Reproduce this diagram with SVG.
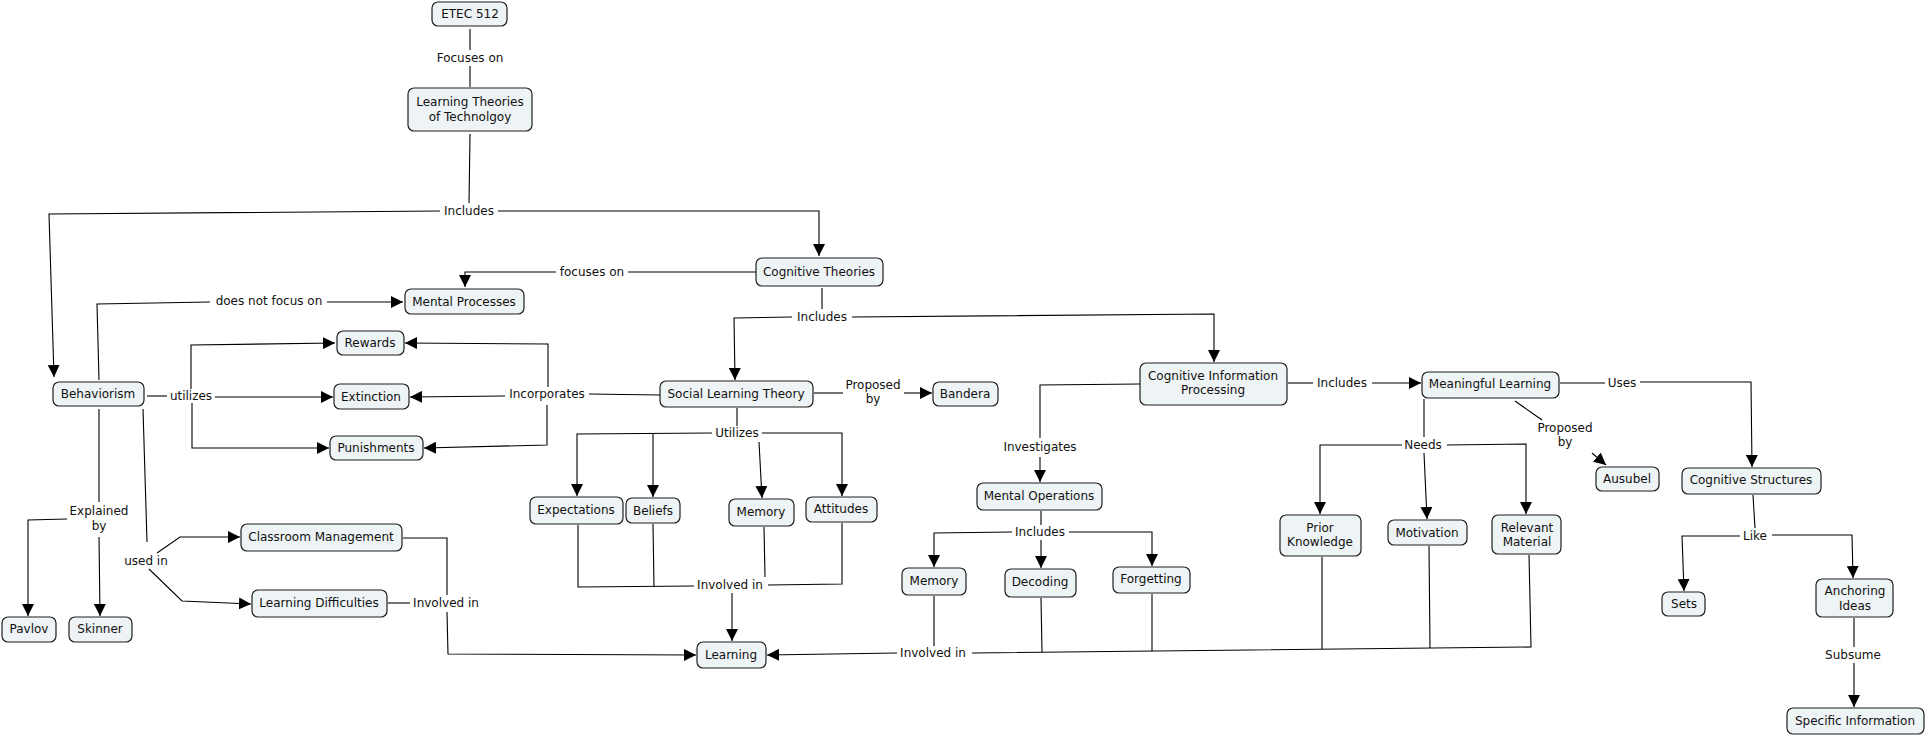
<svg xmlns="http://www.w3.org/2000/svg" width="1926" height="736" viewBox="0 0 1926 736">
<defs>
<marker id="arr" markerUnits="userSpaceOnUse" markerWidth="12" markerHeight="12" viewBox="0 0 10 10" refX="10" refY="5" orient="auto">
<path d="M0,0 L10,5 L0,10 z" fill="#000"/>
</marker>
<style>
.n rect{fill:#eef3f5;stroke:#1e1e1e;stroke-width:1.2}
text{font-family:"DejaVu Sans",Verdana,sans-serif;font-size:12px;fill:#111;text-anchor:middle}
.c path{fill:none;stroke:#000;stroke-width:1.1}
.c path.a{marker-end:url(#arr)}
</style>
</defs>
<rect width="1926" height="736" fill="#fff"/>

<g class="c" id="connectors">
<!-- ETEC -> LTT -->
<path d="M470,29 L470,50"/><path d="M470,66 L470,87"/>
<text x="470" y="62">Focuses on</text>
<!-- LTT Includes -->
<path d="M470,134 L469,203"/>
<text x="469" y="215">Includes</text>
<path class="a" d="M440,211 L49,214 L54,377"/>
<path class="a" d="M498,211 L819,211 L819,256"/>
<!-- CT focuses on MP -->
<path d="M756,272 L628,272"/>
<text x="592" y="276">focuses on</text>
<path class="a" d="M556,272 L465,272 L465,287"/>
<!-- Behaviorism does not focus on MP -->
<path d="M99,380 L97,304 L210,302"/>
<text x="269" y="305">does not focus on</text>
<path class="a" d="M327,302 L403,302"/>
<!-- Behaviorism utilizes -->
<path d="M147,396 L167,396"/>
<text x="191" y="400">utilizes</text>
<path class="a" d="M215,397 L333,397"/>
<path class="a" d="M191,389 L191,345 L335,343"/>
<path class="a" d="M192,403 L192,448 L329,448"/>
<!-- SLT Incorporates -->
<path d="M660,395 L589,394"/>
<text x="547" y="398">Incorporates</text>
<path class="a" d="M505,396 L410,397"/>
<path class="a" d="M548,387 L548,344 L405,343"/>
<path class="a" d="M547,405 L547,445 L424,448"/>
<!-- Explained by -->
<path d="M99,409 L99,502"/>
<text x="99" y="515">Explained</text>
<text x="99" y="530">by</text>
<path class="a" d="M67,519 L28,520 L28,616"/>
<path class="a" d="M99,537 L100,616"/>
<!-- used in -->
<path d="M143,409 L147,542"/>
<text x="146" y="565">used in</text>
<path class="a" d="M157,553 L180,537 L240,537"/>
<path class="a" d="M149,569 L182,601 L251,604"/>
<!-- CM, LD involved in -->
<path d="M403,538 L447,538 L447,595"/>
<path d="M388,603 L410,603"/>
<text x="446" y="607">Involved in</text>
<path class="a" d="M447,612 L448,654 L696,655"/>
<!-- CT Includes -->
<path d="M822,288 L822,309"/>
<text x="822" y="321">Includes</text>
<path class="a" d="M792,317 L734,318 L735,380"/>
<path class="a" d="M852,317 L1214,314 L1214,362"/>
<!-- SLT proposed by -->
<path d="M814,393 L843,393"/>
<text x="873" y="389">Proposed</text>
<text x="873" y="403">by</text>
<path class="a" d="M904,393 L932,393"/>
<!-- SLT Utilizes -->
<path d="M737,408 L737,426"/>
<text x="737" y="437">Utilizes</text>
<path class="a" d="M712,433 L577,434 L577,496"/>
<path class="a" d="M653,434 L653,497"/>
<path class="a" d="M759,442 L762,498"/>
<path class="a" d="M762,433 L842,433 L842,496"/>
<!-- SLT children involved in -->
<path d="M578,525 L578,587 L694,586"/>
<path d="M653,524 L654,587"/>
<path d="M764,527 L765,577"/>
<path d="M842,523 L842,584 L768,585"/>
<text x="730" y="589">Involved in</text>
<path class="a" d="M732,593 L732,641"/>
<!-- CIP Investigates -->
<path d="M1140,384 L1040,385 L1040,438"/>
<text x="1040" y="451">Investigates</text>
<path class="a" d="M1040,457 L1040,482"/>
<!-- MO Includes -->
<path d="M1041,511 L1041,525"/>
<text x="1040" y="536">Includes</text>
<path class="a" d="M1012,532 L934,533 L934,567"/>
<path class="a" d="M1041,540 L1041,568"/>
<path class="a" d="M1069,532 L1152,532 L1152,566"/>
<!-- bottom involved in -->
<path d="M934,596 L934,646"/>
<text x="933" y="657">Involved in</text>
<path class="a" d="M897,653 L767,655"/>
<path d="M972,653 L1531,647 L1529,555"/>
<path d="M1041,598 L1042,652"/>
<path d="M1152,594 L1152,651"/>
<path d="M1322,557 L1322,649"/>
<path d="M1429,546 L1430,648"/>
<!-- CIP Includes ML -->
<path d="M1288,383 L1313,383"/>
<text x="1342" y="387">Includes</text>
<path class="a" d="M1372,383 L1421,383"/>
<!-- ML Needs -->
<path d="M1424,399 L1424,437"/>
<text x="1423" y="449">Needs</text>
<path class="a" d="M1402,445 L1320,445 L1320,514"/>
<path class="a" d="M1424,453 L1427,519"/>
<path class="a" d="M1447,445 L1526,444 L1526,514"/>
<!-- ML Proposed by Ausubel -->
<path d="M1515,401 L1542,420"/>
<text x="1565" y="432">Proposed</text>
<text x="1565" y="446">by</text>
<path class="a" d="M1592,453 L1606,465"/>
<!-- ML Uses -->
<path d="M1560,383 L1605,383"/>
<text x="1622" y="387">Uses</text>
<path class="a" d="M1640,382 L1751,382 L1752,467"/>
<!-- CS Like -->
<path d="M1753,495 L1755,528"/>
<text x="1755" y="540">Like</text>
<path class="a" d="M1740,536 L1682,536 L1684,591"/>
<path class="a" d="M1772,535 L1852,535 L1853,578"/>
<!-- AI Subsume -->
<path d="M1854,618 L1854,647"/>
<text x="1853" y="659">Subsume</text>
<path class="a" d="M1854,663 L1854,707"/>
</g>

<g class="n" id="n-etec"><rect x="432" y="2" width="75" height="24" rx="6"/><text x="470" y="18">ETEC 512</text></g>
<g class="n" id="n-ltt"><rect x="408" y="88" width="124" height="43" rx="6"/><text x="470" y="106">Learning Theories</text><text x="470" y="121">of Technolgoy</text></g>
<g class="n" id="n-ct"><rect x="756" y="258" width="127" height="28" rx="6"/><text x="819" y="276">Cognitive Theories</text></g>
<g class="n" id="n-mp"><rect x="405" y="289" width="119" height="25" rx="6"/><text x="464" y="306">Mental Processes</text></g>
<g class="n" id="n-rewards"><rect x="337" y="331" width="67" height="24" rx="6"/><text x="370" y="347">Rewards</text></g>
<g class="n" id="n-extinction"><rect x="334" y="384" width="75" height="25" rx="6"/><text x="371" y="401">Extinction</text></g>
<g class="n" id="n-punishments"><rect x="330" y="436" width="93" height="24" rx="6"/><text x="376" y="452">Punishments</text></g>
<g class="n" id="n-behaviorism"><rect x="53" y="382" width="91" height="24" rx="6"/><text x="98" y="398">Behaviorism</text></g>
<g class="n" id="n-pavlov"><rect x="2" y="617" width="54" height="25" rx="6"/><text x="29" y="633">Pavlov</text></g>
<g class="n" id="n-skinner"><rect x="69" y="617" width="63" height="25" rx="6"/><text x="100" y="633">Skinner</text></g>
<g class="n" id="n-cm"><rect x="241" y="524" width="161" height="27" rx="6"/><text x="321" y="541">Classroom Management</text></g>
<g class="n" id="n-ld"><rect x="252" y="590" width="135" height="27" rx="6"/><text x="319" y="607">Learning Difficulties</text></g>
<g class="n" id="n-learning"><rect x="697" y="642" width="69" height="26" rx="6"/><text x="731" y="659">Learning</text></g>
<g class="n" id="n-slt"><rect x="660" y="381" width="153" height="26" rx="6"/><text x="736" y="398">Social Learning Theory</text></g>
<g class="n" id="n-bandera"><rect x="933" y="382" width="65" height="24" rx="6"/><text x="965" y="398">Bandera</text></g>
<g class="n" id="n-expectations"><rect x="530" y="497" width="93" height="27" rx="6"/><text x="576" y="514">Expectations</text></g>
<g class="n" id="n-beliefs"><rect x="626" y="498" width="54" height="25" rx="6"/><text x="653" y="515">Beliefs</text></g>
<g class="n" id="n-memory1"><rect x="729" y="499" width="65" height="27" rx="6"/><text x="761" y="516">Memory</text></g>
<g class="n" id="n-attitudes"><rect x="806" y="497" width="71" height="25" rx="6"/><text x="841" y="513">Attitudes</text></g>
<g class="n" id="n-cip"><rect x="1140" y="363" width="147" height="42" rx="6"/><text x="1213" y="380">Cognitive Information</text><text x="1213" y="394">Processing</text></g>
<g class="n" id="n-mo"><rect x="977" y="483" width="125" height="27" rx="6"/><text x="1039" y="500">Mental Operations</text></g>
<g class="n" id="n-memory2"><rect x="902" y="568" width="64" height="27" rx="6"/><text x="934" y="585">Memory</text></g>
<g class="n" id="n-decoding"><rect x="1005" y="569" width="71" height="28" rx="6"/><text x="1040" y="586">Decoding</text></g>
<g class="n" id="n-forgetting"><rect x="1113" y="567" width="77" height="26" rx="6"/><text x="1151" y="583">Forgetting</text></g>
<g class="n" id="n-ml"><rect x="1422" y="372" width="137" height="26" rx="6"/><text x="1490" y="388">Meaningful Learning</text></g>
<g class="n" id="n-pk"><rect x="1280" y="515" width="81" height="41" rx="6"/><text x="1320" y="532">Prior</text><text x="1320" y="546">Knowledge</text></g>
<g class="n" id="n-motivation"><rect x="1388" y="520" width="79" height="25" rx="6"/><text x="1427" y="537">Motivation</text></g>
<g class="n" id="n-rm"><rect x="1492" y="515" width="69" height="39" rx="6"/><text x="1527" y="532">Relevant</text><text x="1527" y="546">Material</text></g>
<g class="n" id="n-ausubel"><rect x="1596" y="467" width="63" height="24" rx="6"/><text x="1627" y="483">Ausubel</text></g>
<g class="n" id="n-cs"><rect x="1682" y="468" width="139" height="26" rx="6"/><text x="1751" y="484">Cognitive Structures</text></g>
<g class="n" id="n-sets"><rect x="1662" y="592" width="43" height="24" rx="6"/><text x="1684" y="608">Sets</text></g>
<g class="n" id="n-ai"><rect x="1816" y="579" width="77" height="38" rx="6"/><text x="1855" y="595">Anchoring</text><text x="1855" y="610">Ideas</text></g>
<g class="n" id="n-si"><rect x="1787" y="708" width="137" height="26" rx="6"/><text x="1855" y="725">Specific Information</text></g>
</svg>
